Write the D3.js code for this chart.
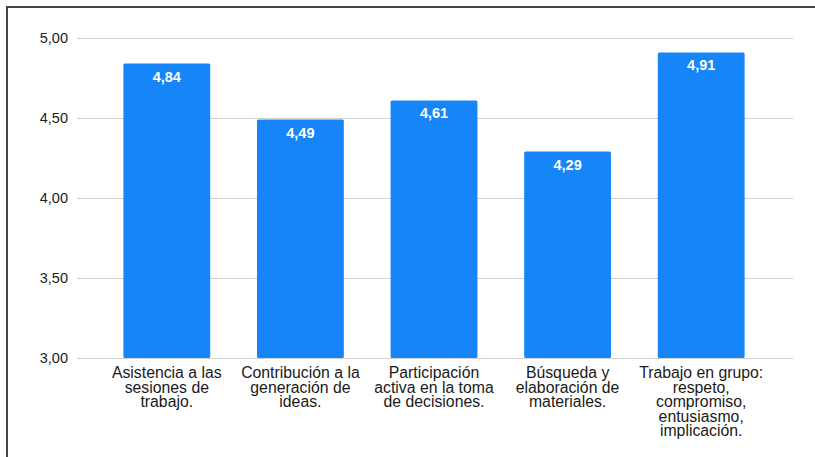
<!DOCTYPE html>
<html>
<head>
<meta charset="utf-8">
<script src="https://cdn.jsdelivr.net/npm/d3@7"></script>
<style>
  html, body { margin: 0; padding: 0; background: #fff; }
  svg { display: block; }
</style>
</head>
<body>
<svg id="chart" width="815" height="457"></svg>
<script>
// Category labels (each split into its printed lines)
const categories = [
  ["Asistencia a las", "sesiones de", "trabajo."],
  ["Contribución a la", "generación de", "ideas."],
  ["Participación", "activa en la toma", "de decisiones."],
  ["Búsqueda y", "elaboración de", "materiales."],
  ["Trabajo en grupo:", "respeto,", "compromiso,", "entusiasmo,", "implicación."]
];
const values = [4.84, 4.49, 4.61, 4.29, 4.91];
const yTicks = [3.0, 3.5, 4.0, 4.5, 5.0];

const fmt = v => d3.format(".2f")(v).replace(".", ",");

const svg = d3.select("#chart");
const W = 815, H = 457;

// Frame lines
svg.append("line").attr("x1", 6).attr("x2", W).attr("y1", 7).attr("y2", 7)
  .attr("stroke", "#444").attr("stroke-width", 2);
svg.append("line").attr("x1", 7).attr("x2", 7).attr("y1", 6).attr("y2", H)
  .attr("stroke", "#444").attr("stroke-width", 2);

const y = d3.scaleLinear().domain([3, 5]).range([358, 38]);
const x = d3.scaleBand().domain(d3.range(categories.length))
  .range([100, 768]).paddingInner(0.35).paddingOuter(0.175);

const font = "'Liberation Sans', Arial, Helvetica, sans-serif";

// Gridlines + tick labels
const grid = svg.append("g");
grid.selectAll("line").data(yTicks).join("line")
  .attr("x1", 77).attr("x2", 793)
  .attr("y1", d => y(d) + 0.5).attr("y2", d => y(d) + 0.5)
  .attr("stroke", "#d0d0d0").attr("stroke-width", 1);
grid.selectAll("text").data(yTicks).join("text")
  .attr("x", 68).attr("y", d => y(d))
  .attr("dy", "0.35em")
  .attr("text-anchor", "end")
  .attr("font-family", font).attr("font-size", 14.5)
  .attr("fill", "#222")
  .text(fmt);

// Bars
svg.append("g").selectAll("rect").data(values).join("rect")
  .attr("x", (d, i) => x(i))
  .attr("width", x.bandwidth())
  .attr("y", d => y(d))
  .attr("height", d => y(3) - y(d))
  .attr("rx", 1.5)
  .attr("fill", "#1685f8");

// Value labels inside the bars
svg.append("g").selectAll("text").data(values).join("text")
  .attr("x", (d, i) => x(i) + x.bandwidth() / 2)
  .attr("y", d => y(d) + 18)
  .attr("text-anchor", "middle")
  .attr("font-family", font).attr("font-size", 14.5).attr("font-weight", "bold")
  .attr("fill", "#fff")
  .text(fmt);

// Category labels under the axis
const cat = svg.append("g").selectAll("text").data(categories).join("text")
  .attr("x", (d, i) => x(i) + x.bandwidth() / 2)
  .attr("y", 378)
  .attr("text-anchor", "middle")
  .attr("font-family", font).attr("font-size", 15.8)
  .attr("fill", "#1a1a1a");
cat.selectAll("tspan").data(d => d).join("tspan")
  .attr("x", function () { return d3.select(this.parentNode).attr("x"); })
  .attr("dy", (d, i) => i === 0 ? 0 : 14.5)
  .text(d => d);
</script>
</body>
</html>
